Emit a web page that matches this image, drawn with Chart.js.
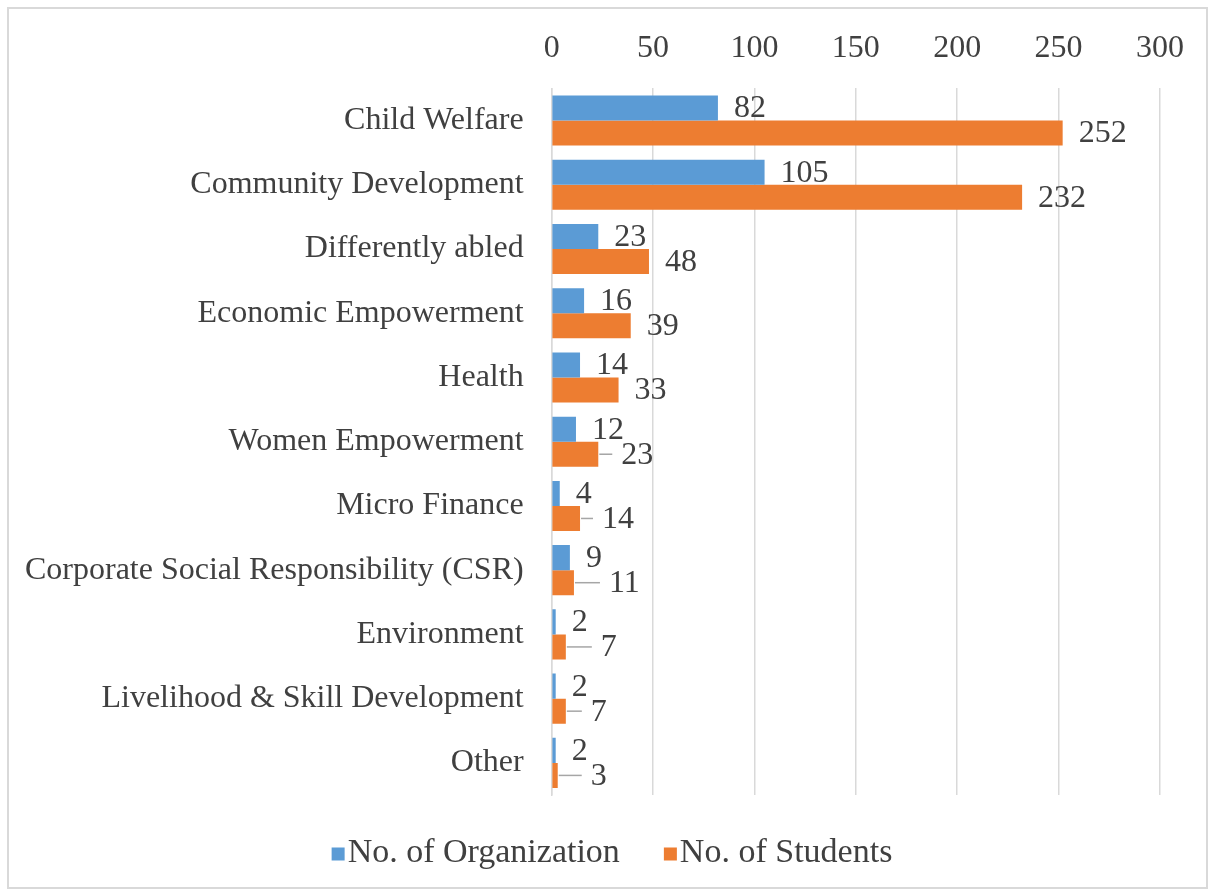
<!DOCTYPE html>
<html>
<head>
<meta charset="utf-8">
<script src="https://cdn.jsdelivr.net/npm/chart.js@4.4.1/dist/chart.umd.min.js"></script>
<style>
  html, body { margin: 0; padding: 0; background: #ffffff; }
  #wrap { position: relative; width: 1209px; height: 894px; }
</style>
</head>
<body>
<div id="wrap"><canvas id="chart"></canvas></div>
<script>
// Areas of field work, counted by organizations and by students placed
const categories = [
  'Child Welfare',
  'Community Development',
  'Differently abled',
  'Economic Empowerment',
  'Health',
  'Women Empowerment',
  'Micro Finance',
  'Corporate Social Responsibility (CSR)',
  'Environment',
  'Livelihood & Skill Development',
  'Other'
];
const organizations = [82, 105, 23, 16, 14, 12, 4, 9, 2, 2, 2];
const students = [252, 232, 48, 39, 33, 23, 14, 11, 7, 7, 3];
const xTicks = [0, 50, 100, 150, 200, 250, 300];

const FONT = "'Liberation Serif', 'Times New Roman', serif";
const TEXT = '#404040';
const GRID = '#d9d9d9';

// Extra horizontal shift (px) for crowded value labels; a shifted label gets a leader line
const labelShift = [
  [0, 0, 0, 0, 0, 0, 0, 0, 0, 0, 0],
  [0, 0, 0, 0, 0, 7, 6, 19, 19, 9, 17]
];

const frame = {
  id: 'frame',
  beforeDraw(chart) {
    const c = chart.ctx;
    c.save();
    c.fillStyle = '#ffffff';
    c.fillRect(0, 0, chart.width, chart.height);
    c.strokeStyle = '#d9d9d9';
    c.lineWidth = 2;
    c.strokeRect(8, 8, chart.width - 10, chart.height - 14);
    c.restore();
  }
};

const valueLabels = {
  id: 'valueLabels',
  afterDatasetsDraw(chart) {
    const c = chart.ctx;
    c.save();
    c.font = '32px ' + FONT;
    c.fillStyle = TEXT;
    c.textBaseline = 'middle';
    c.textAlign = 'left';
    chart.data.datasets.forEach((ds, di) => {
      const meta = chart.getDatasetMeta(di);
      meta.data.forEach((bar, i) => {
        const shift = labelShift[di][i];
        const lx = bar.x + 16 + shift;
        if (shift > 0) {
          c.strokeStyle = '#a6a6a6';
          c.lineWidth = 1.5;
          c.beginPath();
          c.moveTo(bar.x + 1, bar.y);
          c.lineTo(lx - 9, bar.y);
          c.stroke();
        }
        c.fillText(String(ds.data[i]), lx, bar.y + 1);
      });
    });
    c.restore();
  }
};

// Legend row under the plot: small square swatch followed closely by the series name
const bottomLegend = {
  id: 'bottomLegend',
  afterDraw(chart) {
    const c = chart.ctx;
    const box = 13, gapText = 3, gapItems = 44, cy = 852, centerX = 612;
    c.save();
    c.font = '34px ' + FONT;
    c.textBaseline = 'middle';
    c.textAlign = 'left';
    const items = chart.data.datasets.map(ds => ({
      text: ds.label, color: ds.backgroundColor, w: c.measureText(ds.label).width
    }));
    const total = items.reduce((s, it) => s + box + gapText + it.w, 0) + gapItems * (items.length - 1);
    let x = centerX - total / 2;
    items.forEach(it => {
      c.fillStyle = it.color;
      c.fillRect(x, cy - box / 2 + 2, box, box);
      c.fillStyle = TEXT;
      c.fillText(it.text, x + box + gapText, cy + 1);
      x += box + gapText + it.w + gapItems;
    });
    c.restore();
  }
};

new Chart(document.getElementById('chart'), {
  type: 'bar',
  data: {
    labels: categories,
    datasets: [
      { label: 'No. of Organization', data: organizations, backgroundColor: '#5b9bd5' },
      { label: 'No. of Students', data: students, backgroundColor: '#ed7d31' }
    ]
  },
  options: {
    indexAxis: 'y',
    responsive: true,
    maintainAspectRatio: false,
    animation: false,
    datasets: { bar: { categoryPercentage: 0.78, barPercentage: 1.0 } },
    layout: { padding: { top: 8, right: 49, bottom: 99, left: -3 } },
    scales: {
      x: {
        position: 'top',
        min: 0,
        max: 300,
        afterBuildTicks(axis) { axis.ticks = xTicks.map(v => ({ value: v })); },
        grid: { color: GRID, lineWidth: 1.5, drawTicks: false },
        border: { display: false },
        ticks: { color: TEXT, font: { family: FONT, size: 32 }, padding: 21 }
      },
      y: {
        grid: { display: false, drawTicks: false },
        border: { display: true, color: GRID, width: 1.5 },
        ticks: { color: TEXT, font: { family: FONT, size: 32 }, padding: 28 }
      }
    },
    plugins: {
      legend: { display: false },
      tooltip: { enabled: false }
    }
  },
  plugins: [frame, valueLabels, bottomLegend]
});
</script>
</body>
</html>
